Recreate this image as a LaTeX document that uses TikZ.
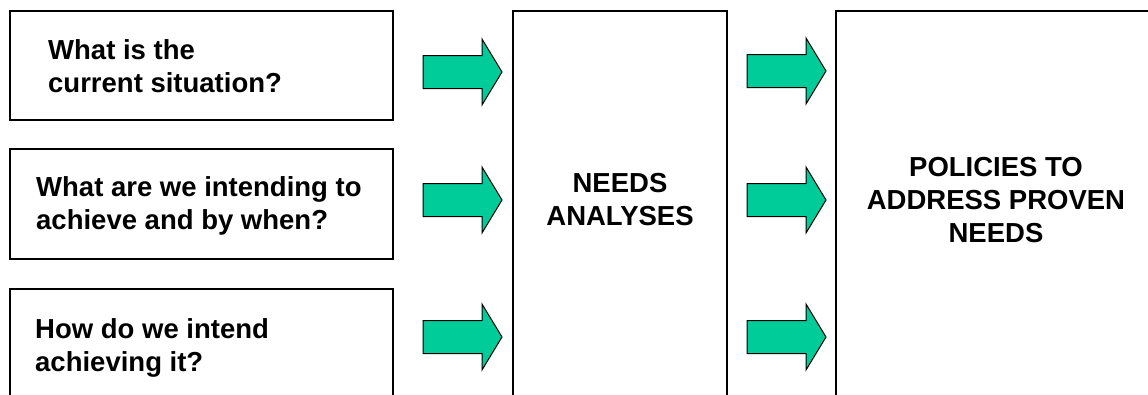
\documentclass[tikz,border=0pt]{standalone}
\usepackage{fontspec}
\setmainfont{Liberation Sans}
\definecolor{arrowgreen}{HTML}{00CC99}
\begin{document}
\begin{tikzpicture}[x=1pt,y=-1pt,
  box/.style={draw=black,line width=2pt,fill=white,inner sep=0pt},
  lbl/.style={font=\fontsize{27.5}{33}\selectfont\bfseries,inner sep=0pt},
  blockarrow/.pic={\draw[fill=arrowgreen,draw=black,line width=1pt,line join=miter]
     (0,-16.5) -- (59,-16.5) -- (59,-33) -- (79,0) -- (59,33) -- (59,16.5) -- (0,16.5) -- cycle;}
]
\useasboundingbox (0,0) rectangle (1148,394);
\clip (0,0) rectangle (1148,394);
\fill[white] (0,0) rectangle (1148,394);
% boxes
\node[box,minimum width=383pt,minimum height=109pt] (b1) at (201.5,65.5) {};
\node[box,minimum width=383pt,minimum height=110pt] (b2) at (201.5,204) {};
\node[box,minimum width=383pt,minimum height=130pt] (b3) at (201.5,354) {};
\node[box,minimum width=214pt,minimum height=410pt] (mid) at (620,216) {};
\node[box,minimum width=320pt,minimum height=410pt] (pol) at (996,216) {};
% texts
\node[lbl,anchor=west,align=left] (t1) at (48,66) {What is the\\current situation?};
\node[lbl,anchor=west,align=left] (t2) at (36,206) {What are we intending to\\achieve and by when?};
\node[lbl,anchor=west,align=left] (t3) at (35,348) {How do we intend\\achieving it?};
\node[lbl,align=center] (tm) at (mid.center |- 0,200) {NEEDS\\ANALYSES};
\node[lbl,align=center] (tp) at (pol.center |- 0,200) {POLICIES TO\\ADDRESS PROVEN\\NEEDS};
% arrows
\pic at (423,72) {blockarrow};
\pic at (423,200) {blockarrow};
\pic at (423,337) {blockarrow};
\pic at (747,71) {blockarrow};
\pic at (747,200) {blockarrow};
\pic at (747,337) {blockarrow};
\end{tikzpicture}
\end{document}
